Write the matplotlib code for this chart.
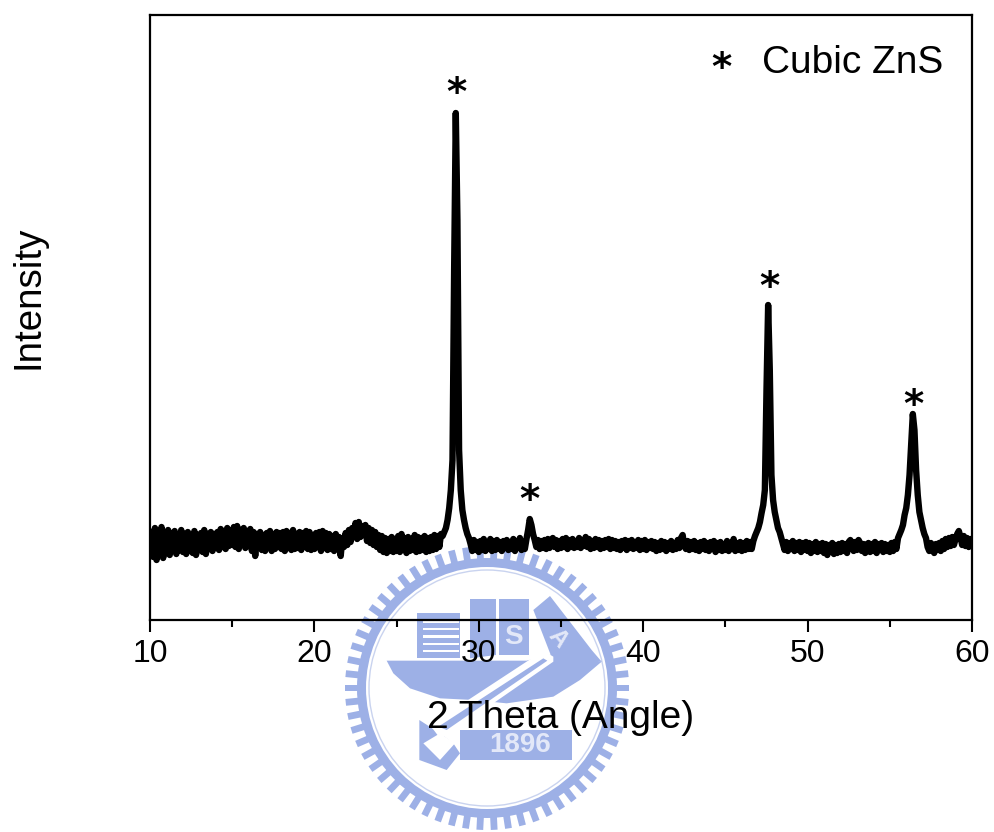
import numpy as np
import matplotlib
matplotlib.use('Agg')
import matplotlib.pyplot as plt
from matplotlib.patches import Circle, Polygon

plt.rcParams['font.family'] = ['Liberation Sans', 'DejaVu Sans']

# one row per degree, 0.1 deg step
intensity = [
    70, 88, 63, 92, 60, 86, 72, 93, 62, 87,
    67, 90, 65, 87, 69, 89, 66, 85, 70, 90,
    68, 86, 66, 88, 69, 85, 67, 89, 65, 84,
    70, 87, 68, 90, 66, 85, 71, 88, 69, 86,
    72, 88, 70, 91, 73, 89, 71, 92, 74, 88,
    75, 93, 73, 94, 71, 90, 75, 92, 72, 89,
    74, 91, 69, 88, 64, 86, 73, 88, 70, 85,
    69, 87, 72, 89, 69, 86, 71, 88, 73, 87,
    71, 88, 69, 89, 72, 87, 70, 90, 71, 86,
    72, 88, 70, 87, 73, 89, 71, 88, 70, 85,
    71, 87, 73, 88, 69, 89, 72, 87, 70, 86,
    71, 84, 69, 86, 72, 83, 64, 82, 73, 87,
    75, 90, 78, 92, 83, 97, 81, 98, 83, 94,
    85, 95, 79, 92, 77, 90, 75, 88, 73, 85,
    70, 84, 68, 82, 67, 81, 69, 83, 68, 81,
    69, 84, 68, 86, 70, 82, 67, 83, 69, 81,
    70, 85, 68, 83, 69, 82, 70, 84, 68, 82,
    69, 83, 70, 85, 71, 84, 73, 86, 84, 88,
    92, 100, 112, 130, 160, 350, 507, 400, 170, 130,
    110, 100, 92, 86, 82, 76, 69, 80, 70, 78,
    68, 79, 70, 81, 69, 78, 71, 81, 69, 79,
    70, 80, 71, 78, 69, 79, 72, 80, 70, 78,
    71, 81, 69, 79, 72, 82, 70, 78, 71, 81,
    90, 101, 95, 86, 80, 73, 80, 71, 79, 72,
    80, 71, 81, 72, 79, 82, 73, 80, 71, 79,
    72, 81, 73, 82, 71, 80, 73, 81, 72, 79,
    73, 82, 72, 80, 74, 83, 73, 81, 71, 79,
    72, 81, 73, 80, 71, 79, 72, 80, 73, 81,
    71, 80, 72, 79, 71, 78, 70, 79, 72, 80,
    70, 79, 72, 80, 71, 78, 72, 80, 70, 79,
    71, 80, 70, 78, 72, 79, 71, 78, 69, 77,
    70, 79, 71, 78, 69, 77, 71, 79, 70, 77,
    71, 80, 72, 82, 85, 74, 71, 79, 70, 78,
    71, 79, 70, 77, 69, 78, 71, 79, 70, 77,
    69, 78, 71, 79, 68, 77, 70, 78, 69, 76,
    70, 79, 69, 77, 71, 81, 69, 77, 70, 78,
    69, 77, 70, 79, 71, 78, 71, 79, 84, 88,
    92, 98, 107, 115, 130, 230, 315, 250, 145, 120,
    108, 100, 92, 88, 82, 76, 70, 78, 69, 77,
    71, 79, 69, 77, 70, 78, 68, 77, 70, 78,
    69, 77, 67, 76, 69, 78, 68, 76, 69, 77,
    67, 76, 65, 75, 68, 77, 66, 75, 67, 76,
    68, 77, 69, 76, 67, 78, 80, 76, 69, 78,
    70, 80, 77, 69, 76, 67, 75, 77, 68, 76,
    69, 78, 67, 76, 70, 77, 68, 76, 69, 75,
    68, 77, 69, 78, 71, 82, 86, 90, 95, 105,
    112, 125, 145, 175, 206, 190, 150, 125, 108, 100,
    92, 86, 82, 73, 69, 77, 71, 67, 76, 70,
    77, 69, 79, 71, 81, 73, 82, 74, 83, 75,
    81, 86, 89, 83, 75, 84, 74, 82, 73, 81,
    76,
]
two_theta = np.linspace(10, 60, len(intensity))

star_x = [28.65, 33.05, 47.65, 56.45]
star_y = [526, 119, 332, 214]

MAIN_COLOR = 'black'
LOGO_COLOR = '#9db0e6'
LOGO_LIGHT = '#e3e8f8'


def zoomed(points):
    return [(340 + x / 3, 530 + y / 3) for x, y in points]


def draw_logo(bg):
    cx, cy = 487, 688
    bg.add_patch(Circle((cx, cy), 130, fc=LOGO_COLOR, ec='none'))
    for ang in np.linspace(0, 2 * np.pi, 62, endpoint=False):
        dx, dy = np.cos(ang), np.sin(ang)
        px, py = -dy * 3.4, dx * 3.4
        r0, r1 = 128, 142
        bg.add_patch(Polygon([(cx + r0 * dx + px, cy + r0 * dy + py),
                              (cx + r1 * dx + px, cy + r1 * dy + py),
                              (cx + r1 * dx - px, cy + r1 * dy - py),
                              (cx + r0 * dx - px, cy + r0 * dy - py)],
                             fc=LOGO_COLOR, ec='none'))
    bg.add_patch(Circle((cx, cy), 121, fc='white', ec='none'))
    bg.add_patch(Circle((cx, cy), 118, fc='none', ec='#c9d3ef', lw=1))

    shapes = [
        [(230, 250), (360, 250), (360, 385), (230, 385)],
        [(390, 207), (468, 207), (468, 375), (390, 385)],
        [(478, 207), (567, 207), (567, 375), (478, 375)],
        [(580, 240), (630, 198), (755, 360), (785, 395), (640, 395)],
        [(140, 392), (560, 392), (640, 372), (785, 395), (720, 450), (640, 500),
         (500, 520), (400, 510), (300, 505), (210, 475), (160, 430)],
        [(360, 600), (695, 600), (695, 690), (360, 690)],
        [(238, 570), (300, 610), (340, 640), (360, 670), (320, 720), (238, 690)],
    ]
    for shape in shapes:
        bg.add_patch(Polygon(zoomed(shape), fc=LOGO_COLOR, ec='none'))
    # white gaps of the ship
    for y in [272, 294, 316, 338, 360]:
        bg.add_patch(Polygon(zoomed([(250, y), (358, y), (358, y + 7), (250, y + 7)]), fc='white', ec='none'))
    bg.add_patch(Polygon(zoomed([(270, 585), (610, 362), (640, 380), (640, 395), (330, 610), (300, 625)]),
                         fc='white', ec='none'))
    bg.add_patch(Polygon(zoomed([(295, 590), (610, 385), (622, 392), (320, 600)]), fc=LOGO_COLOR, ec='none'))
    bg.add_patch(Polygon(zoomed([(250, 640), (300, 610), (345, 640), (300, 690)]), fc='white', ec='none'))
    bg.text(*zoomed([(540, 645)])[0], '1896', color=LOGO_LIGHT, fontsize=20, fontweight='bold',
            ha='center', va='center')
    bg.text(*zoomed([(520, 322)])[0], 'S', color=LOGO_LIGHT, fontsize=20, fontweight='bold', ha='center', va='center')
    bg.text(*zoomed([(655, 325)])[0], 'A', color=LOGO_LIGHT, fontsize=17, fontweight='bold', rotation=-50,
            ha='center', va='center')


fig = plt.figure(figsize=(9.94, 8.32), dpi=100)

bg = fig.add_axes([0, 0, 1, 1], zorder=0)
bg.set_xlim(0, 994)
bg.set_ylim(832, 0)
bg.axis('off')
draw_logo(bg)

ax = fig.add_axes([150 / 994, 1 - 620 / 832, 822 / 994, 605 / 832], zorder=1)
ax.patch.set_alpha(0)
ax.plot(two_theta, intensity, color=MAIN_COLOR, lw=4.6, solid_joinstyle='round', solid_capstyle='round')

for x, y in zip(star_x, star_y):
    ax.text(x, y, '*', family='DejaVu Sans', fontweight='bold', fontsize=28, color=MAIN_COLOR,
            ha='center', va='center')

ax.set_xlim(10, 60)
ax.set_ylim(0, 605)
ax.set_xticks([10, 20, 30, 40, 50, 60])
ax.set_xticks([15, 25, 35, 45, 55], minor=True)
ax.set_yticks([])
ax.tick_params(axis='x', which='major', length=8.5, width=1.5, labelsize=23, pad=5)
ax.tick_params(axis='x', which='minor', length=5, width=1.5)
for s in ax.spines.values():
    s.set_linewidth(1.6)

ax.text(721, 69, '*', family='DejaVu Sans', fontweight='bold', fontsize=28, ha='center', va='center',
        transform=bg.transData)
ax.text(762, 63, 'Cubic ZnS', fontsize=28, ha='left', va='center', transform=bg.transData)

ax.set_xlabel('2 Theta (Angle)', fontsize=28)
ax.xaxis.set_label_coords(0.5, -0.132)
ax.set_ylabel('Intensity', fontsize=27.7)
ax.yaxis.set_label_coords(-0.126, 0.533)

fig.savefig('out.png', dpi=100)
